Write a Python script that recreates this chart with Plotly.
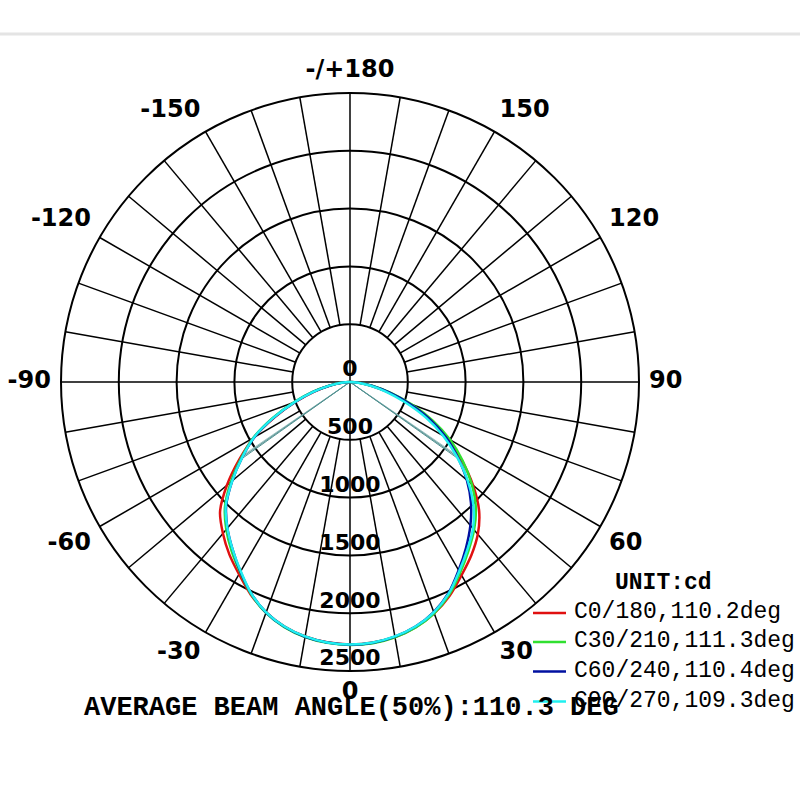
import plotly.graph_objects as go

# ---------------- data ----------------
angles = list(range(-90, 95, 5))

c0_180 = [0, 70, 170, 320, 500, 720, 960, 1170, 1390, 1590, 1710, 1820, 1920, 2030, 2120, 2190, 2235, 2260,
          2270, 2262, 2240, 2195, 2130, 2040, 1930, 1830, 1720, 1580, 1390, 1180, 970, 750, 530, 340, 185, 80, 0]
c30_210 = [0, 80, 185, 340, 520, 740, 965, 1150, 1345, 1530, 1665, 1785, 1900, 2025, 2125, 2195, 2240, 2265,
           2275, 2268, 2242, 2198, 2130, 2030, 1905, 1785, 1670, 1540, 1375, 1190, 1000, 790, 570, 370, 200, 90, 0]
c60_240 = [0, 72, 175, 325, 505, 725, 955, 1140, 1330, 1515, 1650, 1770, 1895, 2020, 2122, 2192, 2238, 2262,
           2272, 2264, 2236, 2190, 2118, 2015, 1880, 1750, 1620, 1480, 1320, 1140, 960, 760, 545, 350, 190, 85, 0]
c90_270 = [0, 75, 180, 330, 510, 730, 960, 1140, 1330, 1520, 1650, 1770, 1890, 2020, 2120, 2190, 2235, 2262,
           2270, 2262, 2235, 2190, 2120, 2020, 1890, 1770, 1655, 1510, 1330, 1130, 930, 720, 500, 320, 175, 70, 0]

series_names = ["C0/180,110.2deg", "C30/210,111.3deg", "C60/240,110.4deg", "C90/270,109.3deg"]
series_values = [c0_180, c30_210, c60_240, c90_270]
series_colors = ["#e01010", "#30e030", "#0010a0", "#20f0f0"]
beam_angles = [110.2, 111.3, 110.4, 109.3]
avg_beam = 110.3
unit_label = "UNIT:cd"

radial_ticks = [0, 500, 1000, 1500, 2000, 2500]
angle_grid = list(range(0, 360, 10))
angle_tick_vals = [0, 30, 60, 90, 120, 150, 180, 210, 240, 270, 300, 330]
angle_tick_text = ["0", "30", "60", "90", "120", "150", "-/+180", "-150", "-120", "-90", "-60", "-30"]

R_MAX = radial_ticks[-1]
R_INNER = radial_ticks[1]
RANGE_K = 1.2          # extra room around the outer ring for the angle labels

fig = go.Figure()

# spokes every 10 degrees (outside the first ring) + the two axes through the centre
sp_r, sp_t = [], []
for a in angle_grid:
    if a % 90 == 0:
        continue
    sp_r += [R_INNER, R_MAX, None]
    sp_t += [a, a, None]
for a in (0, 90):
    sp_r += [R_MAX, 0, R_MAX, None]
    sp_t += [a, a, a + 180, None]
fig.add_trace(go.Scatterpolar(r=sp_r, theta=sp_t, mode="lines", connectgaps=False,
                              line=dict(color="black", width=1.5), hoverinfo="skip", showlegend=False))

# 50% beam-angle lines
beam_line_colors = ["#7fb0b0", "#9cc4c4", "#6a9e9e", "#4f8f8f"]
for vals, ba, col in zip(series_values, beam_angles, beam_line_colors):
    half = max(vals) / 2
    fig.add_trace(go.Scatterpolar(
        r=[half, 0, half], theta=[-ba / 2, 0, ba / 2],
        mode="lines", line=dict(color=col, width=1), hoverinfo="skip", showlegend=False))

# curves
for name, vals, col in zip(series_names, series_values, series_colors):
    fig.add_trace(go.Scatterpolar(
        r=vals, theta=angles, mode="lines", name=name, showlegend=False,
        line=dict(color=col, width=2.5, shape="spline", smoothing=0.8)))

# radial value labels
fig.add_trace(go.Scatterpolar(
    r=radial_ticks, theta=[0] * len(radial_ticks), mode="text",
    text=["<b>%d</b>" % v for v in radial_ticks], textposition="top center",
    textfont=dict(family="DejaVu Sans", size=22, color="black"),
    hoverinfo="skip", showlegend=False))

# angular labels placed just outside the outer ring
def label_pos(a):
    if a == 0:
        return "bottom center"
    if a < 90:
        return "bottom right"
    if a == 90:
        return "middle right"
    if a < 180:
        return "top right"
    if a == 180:
        return "top center"
    if a < 270:
        return "top left"
    if a == 270:
        return "middle left"
    return "bottom left"

fig.add_trace(go.Scatterpolar(
    r=[R_MAX * 1.035] * len(angle_tick_vals), theta=angle_tick_vals, mode="text",
    text=["<b>%s</b>" % t for t in angle_tick_text],
    textposition=[label_pos(a) for a in angle_tick_vals],
    textfont=dict(family="DejaVu Sans", size=24, color="black"),
    cliponaxis=False, hoverinfo="skip", showlegend=False))

# polar domain: ring of 2500 cd has radius 289 px, centred at (350, 382)
rad_px = 289 * RANGE_K
cx0, cx1 = (350 - rad_px) / 800, (350 + rad_px) / 800
cy0, cy1 = (418 - rad_px) / 800, (418 + rad_px) / 800

fig.update_layout(
    width=800, height=800, margin=dict(l=0, r=0, t=0, b=0),
    paper_bgcolor="white", plot_bgcolor="white",
    showlegend=False,
    polar=dict(
        domain=dict(x=[cx0, cx1], y=[cy0, cy1]),
        bgcolor="rgba(0,0,0,0)",
        radialaxis=dict(range=[0, R_MAX * RANGE_K], tickvals=radial_ticks[1:], showticklabels=False,
                        ticks="", showline=False, showgrid=True, gridcolor="black", gridwidth=1.6),
        angularaxis=dict(rotation=-90, direction="counterclockwise",
                         showticklabels=False, ticks="", showline=False, showgrid=False),
    ),
)

# legend (built manually to match row spacing)
def px(x):
    return x / 800

def py(y):
    return (800 - y) / 800

fig.add_annotation(text="<b>" + unit_label + "</b>", x=px(663), y=py(583), xref="paper", yref="paper",
                   xanchor="center", yanchor="middle", showarrow=False,
                   font=dict(family="Liberation Mono", size=23, color="black"))
row_y = [612, 641, 670.5, 700.5]
for name, col, yy in zip(series_names, series_colors, row_y):
    fig.add_shape(type="line", xref="paper", yref="paper", x0=px(533), x1=px(566),
                  y0=py(yy + 1), y1=py(yy + 1), line=dict(color=col, width=2.5))
    fig.add_annotation(text=name, x=px(572), y=py(yy), xref="paper", yref="paper",
                       xanchor="left", yanchor="middle", showarrow=False,
                       font=dict(family="Liberation Mono", size=23, color="black"))

fig.add_annotation(
    text="<b>AVERAGE BEAM ANGLE(50%):" + f"{avg_beam:.1f}" + " DEG</b>",
    x=px(351), y=py(708), xref="paper", yref="paper",
    xanchor="center", yanchor="middle", showarrow=False,
    font=dict(family="Liberation Mono", size=27, color="black"))

fig.add_shape(type="line", xref="paper", yref="paper", x0=0, x1=1,
              y0=py(34), y1=py(34), line=dict(color="#e4e4e4", width=3))

fig.write_html("out.html")
